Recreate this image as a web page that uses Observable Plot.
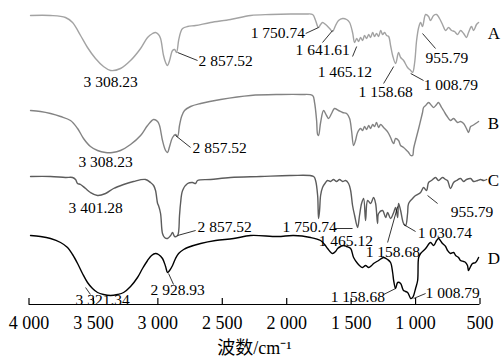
<!DOCTYPE html>
<html><head><meta charset="utf-8">
<script src="https://cdn.jsdelivr.net/npm/d3@7"></script>
<script src="https://cdn.jsdelivr.net/npm/@observablehq/plot@0.6"></script>
<style>
html,body{margin:0;padding:0;background:#fff;}
#chart svg{display:block;}
</style>
</head><body><div id="chart"></div>
<script>
// Series (wavenumber cm^-1, relative transmittance with vertical offset)
const seriesNames = ["A", "B", "C", "D"];
const seriesColors = ["#a3a3a3", "#838383", "#5c5c5c", "#000000"];

const traceA = [[3988,289],[3833,289],[3717,287],[3662,282],[3600,269],[3546,257],[3484,246],[3422,238],[3367,234],[3290,236],[3212,244],[3134,256],[3080,267],[3041,271],[3018,272],[2995,270],[2979,266],[2956,249],[2940,242],[2925,239],[2909,244],[2886,254],[2870,255],[2855,252],[2839,264],[2824,272],[2808,276],[2769,278],[2707,279],[2591,282],[2436,285],[2280,289],[2125,290],[1970,290.5],[1853,290.5],[1799,290],[1776,284],[1760,278],[1753,277],[1737,280],[1722,282],[1698,280],[1667,276],[1644,273],[1621,279],[1598,284],[1566,286],[1535,285],[1512,282],[1489,272],[1473,262],[1457,266],[1442,263],[1427,267],[1411,264],[1396,269],[1380,266],[1364,270],[1349,267],[1333,272],[1318,268],[1303,271],[1287,268],[1271,274],[1256,270],[1240,272],[1225,269],[1209,268],[1194,259],[1178,249],[1155,241],[1132,252],[1116,247],[1093,244],[1062,237],[1038,234],[1023,232],[1007,242],[992,264],[976,277],[961,282],[946,278],[922,290],[899,288],[884,284],[860,289],[837,290],[814,286],[791,280],[767,274],[744,277],[721,274],[698,273],[674,270],[651,274],[627,271],[605,267],[589,272],[566,278],[550,274],[527,280],[511,282]];

const traceB = [[3988,194],[3911,193],[3833,191],[3755,188],[3678,184],[3623,176],[3577,166],[3523,158],[3468,154],[3406,152],[3352,152],[3290,154],[3212,160],[3134,169],[3080,179],[3033,185],[3002,183],[2987,179],[2964,164],[2940,154],[2925,152],[2909,158],[2886,167],[2863,170],[2847,168],[2832,179],[2816,188],[2793,194],[2746,198],[2668,201],[2513,205],[2280,209],[2048,210],[1892,210],[1799,209],[1784,202],[1768,184],[1760,170],[1753,169],[1737,182],[1714,194],[1691,189],[1675,186],[1652,191],[1629,196],[1598,194],[1566,192],[1535,191],[1512,186],[1497,174],[1481,159],[1466,164],[1450,172],[1427,176],[1411,174],[1396,178],[1380,175],[1364,179],[1349,176],[1333,180],[1318,178],[1303,182],[1287,177],[1271,180],[1248,177],[1225,174],[1209,171],[1194,167],[1170,161],[1155,166],[1132,164],[1116,159],[1093,157],[1069,154],[1054,152],[1038,149],[1023,149],[1015,156],[1000,164],[976,176],[961,184],[946,192],[938,197],[922,199],[899,202],[876,199],[860,197],[837,200],[822,202],[798,197],[783,194],[760,189],[729,184],[705,186],[674,182],[651,183],[627,181],[605,176],[589,172],[573,178],[558,179],[534,181],[511,183]];

const traceC = [[3988,128],[3833,128],[3717,127],[3662,127],[3639,125],[3623,121],[3600,120],[3561,116],[3523,112],[3468,109],[3406,111],[3344,116],[3266,120],[3189,123],[3096,125],[3057,122],[3033,119],[3018,114],[3002,101],[2995,99],[2979,91],[2964,71],[2948,67],[2925,66],[2901,69],[2886,72],[2870,68],[2847,69],[2832,89],[2824,101],[2808,114],[2769,121],[2731,122],[2707,121],[2692,124],[2591,125],[2436,127],[2203,128],[1970,129],[1791,128],[1776,124],[1760,109],[1753,86],[1745,94],[1737,109],[1722,117],[1698,122],[1683,124],[1660,123],[1637,125],[1613,123],[1590,125],[1566,123],[1543,124],[1520,121],[1504,114],[1489,99],[1473,89],[1450,77],[1435,89],[1419,101],[1403,106],[1388,84],[1372,104],[1349,101],[1326,107],[1310,101],[1295,81],[1287,91],[1256,94],[1232,87],[1217,92],[1194,86],[1170,92],[1155,97],[1139,87],[1132,101],[1116,94],[1093,81],[1077,79],[1062,91],[1054,101],[1023,106],[1000,109],[961,112],[938,117],[915,114],[899,122],[876,124],[845,127],[822,124],[791,127],[767,125],[752,124],[729,116],[705,122],[682,124],[651,126],[627,123],[605,125],[573,126],[550,123],[519,124],[496,125],[471,124],[448,125]];

const traceD = [[3988,69],[3911,68],[3833,66],[3755,62],[3701,57],[3662,50],[3623,41],[3585,31],[3546,22],[3507,16],[3468,12],[3422,10],[3367,9],[3313,10],[3266,12],[3212,18],[3158,27],[3119,36],[3080,44],[3049,49],[3018,51],[2995,50],[2964,46],[2940,38],[2925,32],[2909,34],[2886,39],[2863,46],[2839,51],[2800,55],[2769,57],[2668,61],[2552,64],[2412,66],[2280,69],[2071,68],[1946,69],[1815,67],[1737,64],[1706,60],[1683,56],[1644,51],[1621,53],[1605,56],[1582,58],[1559,59],[1535,58],[1504,56],[1481,47],[1450,41],[1427,38],[1411,37],[1388,39],[1364,37],[1341,39],[1326,41],[1287,44],[1248,47],[1217,45],[1194,42],[1178,32],[1170,24],[1155,16],[1139,22],[1116,21],[1101,16],[1093,14],[1077,13],[1062,12],[1046,8],[1038,6],[1023,7],[1015,9],[1000,16],[984,24],[976,47],[961,51],[922,56],[884,62],[860,59],[837,64],[822,66],[791,61],[767,58],[752,54],[729,51],[705,52],[689,49],[667,47],[651,44],[627,43],[612,42],[597,39],[589,34],[573,38],[558,41],[534,42],[511,47]];

const xTicks = [4000, 3500, 3000, 2500, 2000, 1500, 1000, 500];
const axisTitle = "波数/cm⁻¹";

// Peak annotations (text, wavenumber at text start, level)
const peakLabels = [
  {text: "3 308.23", wn: 3577, t: 222},
  {text: "2 857.52", wn: 2684, t: 243},
  {text: "1 750.74", wn: 2280, t: 271},
  {text: "1 641.61", wn: 1931, t: 254},
  {text: "1 465.12", wn: 1760, t: 232},
  {text: "1 158.68", wn: 1442, t: 212},
  {text: "1 008.79", wn: 937, t: 219},
  {text: "955.79", wn: 922, t: 246},
  {text: "3 308.23", wn: 3616, t: 142},
  {text: "2 857.52", wn: 2731, t: 156},
  {text: "3 401.28", wn: 3693, t: 96},
  {text: "2 857.52", wn: 2692, t: 77},
  {text: "1 750.74", wn: 2032, t: 77},
  {text: "1 465.12", wn: 1752, t: 63},
  {text: "1 158.68", wn: 1387, t: 52},
  {text: "1 030.74", wn: 984, t: 71},
  {text: "955.79", wn: 727, t: 92},
  {text: "3 321.34", wn: 3639, t: 4},
  {text: "2 928.93", wn: 3057, t: 14},
  {text: "1 158.68", wn: 1659, t: 7},
  {text: "1 008.79", wn: 922, t: 11}
];

const leaders = [
  {x1: 2847, y1: 252, x2: 2692, y2: 244},
  {x1: 1853, y1: 271, x2: 1753, y2: 277},
  {x1: 1722, y1: 262, x2: 1644, y2: 274},
  {x1: 1489, y1: 248, x2: 1457, y2: 258},
  {x1: 1248, y1: 221, x2: 1170, y2: 238},
  {x1: 1038, y1: 231, x2: 938, y2: 224},
  {x1: 946, y1: 271, x2: 845, y2: 256},
  {x1: 2863, y1: 169, x2: 2746, y2: 157},
  {x1: 2847, y1: 69, x2: 2707, y2: 74},
  {x1: 1628, y1: 76, x2: 1489, y2: 76},
  {x1: 1217, y1: 62, x2: 1139, y2: 98},
  {x1: 1093, y1: 80, x2: 1000, y2: 73},
  {x1: 907, y1: 109, x2: 829, y2: 101},
  {x1: 3561, y1: 17, x2: 3523, y2: 10},
  {x1: 2917, y1: 31, x2: 2878, y2: 20},
  {x1: 1248, y1: 10, x2: 1155, y2: 16},
  {x1: 1015, y1: 6, x2: 922, y2: 11}
];

const seriesLabels = [
  {name: "A", wn: 440, t: 271},
  {name: "B", wn: 440, t: 181},
  {name: "C", wn: 440, t: 124},
  {name: "D", wn: 440, t: 46}
];

const fmt = d => d >= 1000 ? `${Math.floor(d / 1000)} ${String(d % 1000).padStart(3, "0")}` : String(d);

const rows = [];
[traceA, traceB, traceC, traceD].forEach((tr, i) =>
  tr.forEach(([wn, t]) => rows.push({series: seriesNames[i], wn, t})));

const serif = "'Liberation Serif', 'Times New Roman', serif";

const plot = Plot.plot({
  width: 502, height: 357,
  marginLeft: 28.5, marginRight: 22.5, marginTop: 0, marginBottom: 53,
  x: {domain: [4000, 500], axis: null},
  y: {domain: [0, 304], axis: null},
  color: {domain: seriesNames, range: seriesColors},
  style: "font-family: 'Liberation Serif', 'Times New Roman', serif; background: #fff; color: #000;",
  marks: [
    Plot.line(rows, {x: "wn", y: "t", z: "series", stroke: "series", strokeWidth: 1.4, curve: "catmull-rom"}),
    Plot.link(leaders, {x1: "x1", y1: "y1", x2: "x2", y2: "y2", stroke: "#000", strokeWidth: 0.8}),
    Plot.text(peakLabels, {x: "wn", y: "t", text: "text", textAnchor: "start", fontSize: 15.5, fill: "#000", fontFamily: serif}),
    Plot.text(seriesLabels, {x: "wn", y: "t", text: "name", textAnchor: "start", fontSize: 17, fill: "#000", fontFamily: serif}),
    Plot.ruleY([0], {x1: 4000, x2: 500, stroke: "#000", strokeWidth: 1.2}),
    Plot.ruleX(xTicks, {x: d => d, y1: 0, y2: 6, stroke: "#000", strokeWidth: 1.2}),
    Plot.text(xTicks, {x: d => d, y: 0, dy: 19, text: fmt, fontSize: 18, fill: "#000", fontFamily: serif, ariaLabel: "tick-labels"}),
    Plot.text([axisTitle], {x: 2250, y: 0, dy: 44, text: d => d, fontSize: 18, fill: "#000",
      fontFamily: "'Liberation Serif', 'Noto Sans CJK SC', serif", ariaLabel: "axis-title"})
  ]
});

// widen tick labels and title horizontally, as in the reference typesetting
function stretch(label, k) {
  plot.querySelectorAll(`g[aria-label="${label}"] text`).forEach(t => {
    const x = t.getAttribute("x"), y = t.getAttribute("y");
    const tr = t.getAttribute("transform") || "";
    let tx = 0, ty = 0;
    if (x != null) { tx = +x; t.removeAttribute("x"); }
    if (y != null) { ty = +y; t.removeAttribute("y"); }
    t.setAttribute("transform", `${tr} translate(${tx},${ty}) scale(${k},1)`);
  });
}
stretch("tick-labels", 1.2);
stretch("axis-title", 1.12);

document.getElementById("chart").appendChild(plot);
</script>
</body></html>
